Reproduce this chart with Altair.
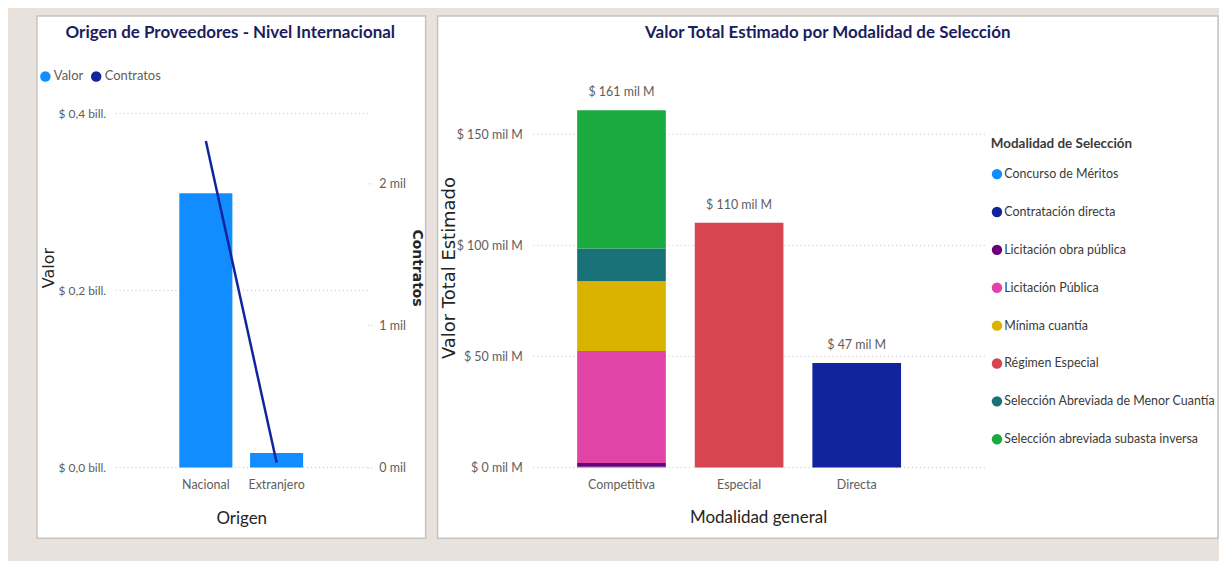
import altair as alt
import pandas as pd

# ---------------- data ----------------
origen = ["Nacional", "Extranjero"]
valor_bill = [0.310, 0.0162]          # Valor (billones)
contratos = [2297, 35]                # número de contratos
ticks_valor = [0, 0.2, 0.4]
ticks_contratos = [0, 1000, 2000]
series_left = ["Valor", "Contratos"]

general = ["Competitiva", "Competitiva", "Competitiva", "Competitiva",
           "Competitiva", "Competitiva", "Especial", "Directa"]
modalidad = ["Concurso de Méritos", "Licitación obra pública", "Licitación Pública",
             "Mínima cuantía", "Selección Abreviada de Menor Cuantía",
             "Selección abreviada subasta inversa", "Régimen Especial",
             "Contratación directa"]
valor_milm = [0.3, 1.7, 50.4, 31.4, 14.8, 62.2, 110.2, 47.0]   # mil M
general_order = ["Competitiva", "Especial", "Directa"]
legend_order = ["Concurso de Méritos", "Contratación directa", "Licitación obra pública",
                "Licitación Pública", "Mínima cuantía", "Régimen Especial",
                "Selección Abreviada de Menor Cuantía", "Selección abreviada subasta inversa"]
legend_colors = ["#118DFF", "#12239E", "#6B007B", "#E044A7", "#D9B300",
                 "#D64550", "#197278", "#1AAB40"]
ticks_modal = [0, 50, 100, 150]

# ---------------- style ----------------
NARROW = "Lato, Roboto, sans-serif"
WIDE = "DejaVu Sans, Verdana, sans-serif"
BEIGE = "#e9e1dc"
GRID = "#c8c6c4"
LBL = "#605E5C"
DARK = "#252423"
TITLE = "#1a1d5e"

panel = alt.Data(values=[{"p": 1}])

# common plot height / panel frame (both panels share the same vertical frame)
H = 401
TOP, BOTTOM = -52, H + 71

# ---------------- left panel ----------------
WL = 254
df_o = pd.DataFrame({"Origen": origen, "Valor": valor_bill, "Contratos": contratos})
dom_valor = [0, 0.4 * H / 355]
dom_contr = [0, 2490 * H / 355]

bg_left = alt.Chart(panel).mark_rect(fill="white", stroke="#c4c4c4", strokeWidth=1.5).encode(
    x=alt.value(-78), x2=alt.value(WL + 58), y=alt.value(TOP), y2=alt.value(BOTTOM))

grid_left = alt.Chart(pd.DataFrame({"t": ticks_valor})).mark_rule(
    color=GRID, strokeDash=[1, 3], strokeWidth=1).encode(
    y=alt.Y("t:Q", scale=alt.Scale(domain=dom_valor), axis=None))

x_left_axis = alt.Axis(title="Origen", labelAngle=0, labelPadding=11,
                       titleY=51, titleBaseline="middle",
                       titleFont=NARROW, titleFontSize=17, titleFontWeight="normal",
                       titleColor=DARK, zindex=2)
x_left = alt.X("Origen:N", sort=origen,
               scale=alt.Scale(paddingInner=0.25, paddingOuter=0.914), axis=x_left_axis)

color_left = alt.Color("serie:N",
                       scale=alt.Scale(domain=series_left, range=["#118DFF", "#12239E"]),
                       legend=alt.Legend(title=None, orient="none", legendX=-76, legendY=2,
                                         direction="horizontal", symbolType="circle",
                                         symbolSize=110, symbolStrokeWidth=0,
                                         labelFont=NARROW, labelFontSize=13, labelColor=LBL,
                                         labelOffset=2, columnPadding=6))

bars_left = alt.Chart(df_o).transform_calculate(serie="'Valor'").mark_bar().encode(
    x=x_left,
    y=alt.Y("Valor:Q", scale=alt.Scale(domain=dom_valor),
            axis=alt.Axis(orient="left", values=ticks_valor, labelPadding=9, zindex=2,
                          labelFontSize=12,
                          labelExpr="'$ ' + replace(format(datum.value, '.1f'), '.', ',') + ' bill.'",
                          title="Valor", titleX=-66, titleBaseline="middle",
                          titleFont=WIDE, titleFontSize=16, titleFontWeight="normal")),
    color=color_left)

line_left = alt.Chart(df_o).transform_calculate(serie="'Contratos'").mark_line(
    strokeWidth=2.5).encode(
    x=x_left,
    y=alt.Y("Contratos:Q", scale=alt.Scale(domain=dom_contr),
            axis=alt.Axis(orient="right", values=ticks_contratos, zindex=2,
                          ticks=True, tickSize=6, tickDash=[1, 2], tickColor=GRID,
                          labelPadding=5,
                          labelExpr="format(datum.value / 1000, 'd') + ' mil'",
                          title="Contratos", titleX=49, titleBaseline="middle",
                          titleFont=WIDE, titleFontSize=14, titleFontWeight="bold")),
    color=color_left)

left = alt.layer(bg_left, grid_left, bars_left, line_left).resolve_scale(
    y="independent").properties(
    width=WL, height=H,
    title=alt.Title("Origen de Proveedores - Nivel Internacional", offset=-27, dx=-11))

# ---------------- right panel ----------------
WR = 455
df_m = pd.DataFrame({"general": general, "modalidad": modalidad, "valor": valor_milm,
                     "orden": [legend_order.index(m) for m in modalidad]})

bg_right = alt.Chart(panel).mark_rect(fill="white", stroke="#c4c4c4", strokeWidth=1.5).encode(
    x=alt.value(-94), x2=alt.value(WR + 234), y=alt.value(TOP), y2=alt.value(BOTTOM))

y_right_axis = alt.Axis(values=ticks_modal, labelPadding=9, zindex=2,
                        labelExpr="'$ ' + datum.value + ' mil M'",
                        title="Valor Total Estimado", titleX=-82, titleBaseline="middle",
                        titleFont=WIDE, titleFontSize=18, titleFontWeight="normal")
y_scale_r = alt.Scale(domain=[0, 180])

grid_right = alt.Chart(pd.DataFrame({"t": ticks_modal})).mark_rule(
    color=GRID, strokeDash=[1, 3], strokeWidth=1).encode(
    y=alt.Y("t:Q", scale=y_scale_r, axis=y_right_axis))

x_right = alt.X("general:N", sort=general_order,
                scale=alt.Scale(paddingInner=0.246, paddingOuter=0.551, align=0.354),
                axis=alt.Axis(title="Modalidad general", labelAngle=0, labelPadding=11,
                              titleY=50, titleBaseline="middle",
                              titleFont=NARROW, titleFontSize=17,
                              titleFontWeight="normal", titleColor=DARK, zindex=2))

bars_right = alt.Chart(df_m).mark_bar().encode(
    x=x_right,
    y=alt.Y("valor:Q", stack="zero", scale=y_scale_r, axis=y_right_axis),
    color=alt.Color("modalidad:N",
                    scale=alt.Scale(domain=legend_order, range=legend_colors),
                    legend=alt.Legend(title="Modalidad de Selección", orient="none",
                                      legendX=461, legendY=70, symbolType="circle",
                                      symbolSize=110, symbolStrokeWidth=0,
                                      titleFont=NARROW, titleFontSize=13.5, titleColor="#3b3a39",
                                      titleFontWeight="bold", titlePadding=17,
                                      labelFont=NARROW, labelFontSize=12.5, labelColor="#3b3a39",
                                      labelOffset=1, rowPadding=25, labelLimit=300)),
    order=alt.Order("orden:Q", sort="ascending"))

labels_right = alt.Chart(df_m).transform_aggregate(
    total="sum(valor)", groupby=["general"]).transform_calculate(
    lab="'$ ' + format(datum.total, '.0f') + ' mil M'").mark_text(
    baseline="bottom", dy=-11, font=NARROW, fontSize=12.5, color=LBL).encode(
    x=x_right, y=alt.Y("total:Q", scale=y_scale_r, axis=y_right_axis), text="lab:N")

right = alt.layer(bg_right, grid_right, bars_right, labels_right).properties(
    width=WR, height=H,
    title=alt.Title("Valor Total Estimado por Modalidad de Selección", offset=-27, dx=70))

chart = alt.hconcat(left, right, spacing=10).resolve_scale(
    color="independent").resolve_legend(color="independent").properties(
    background=BEIGE,
    padding={"left": 28, "top": 6, "right": 0, "bottom": 21}
).configure_view(stroke=None).configure_axis(
    domain=False, ticks=False, grid=False,
    labelFont=NARROW, labelFontSize=12.5, labelColor=LBL,
    titleColor=DARK
).configure_title(
    font=NARROW, fontSize=17, fontWeight="bold", color=TITLE, anchor="middle"
)

chart.save("out.html", embed_options={"renderer": "svg", "actions": False})
